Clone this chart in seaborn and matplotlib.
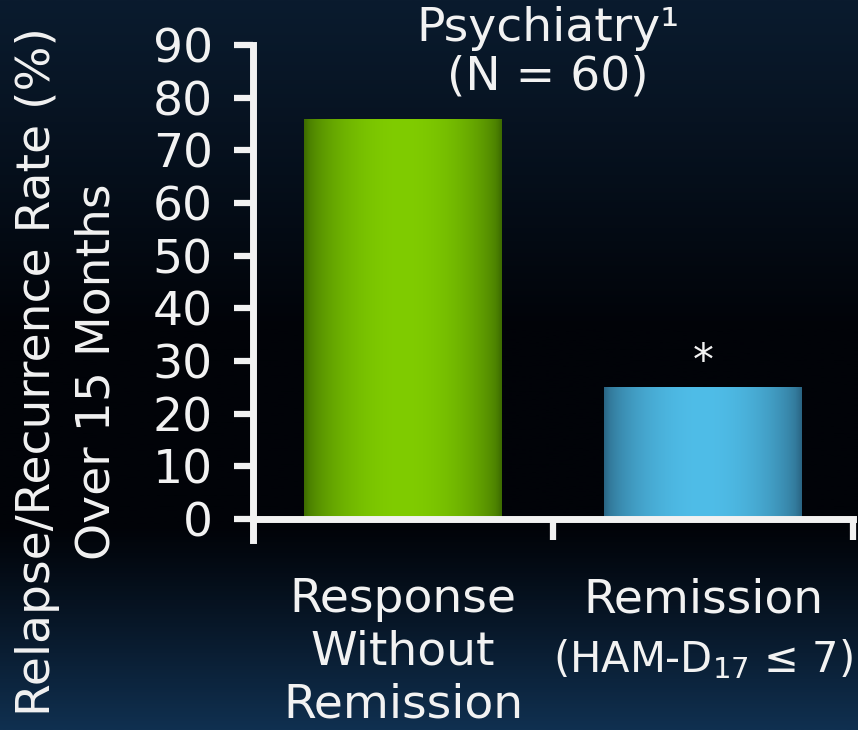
import numpy as np
import pandas as pd
import matplotlib
matplotlib.use("Agg")
import matplotlib.pyplot as plt
import seaborn as sns
from matplotlib.colors import LinearSegmentedColormap, to_rgb

# Relapse/recurrence over 15 months by acute-phase outcome
categories = ["Response\nWithout\nRemission", "Remission"]
criteria = ["", "(HAM-D$_{17}$ \u2264 7)"]
rates = [76, 25]
markers = ["", "*"]
yticks = [0, 10, 20, 30, 40, 50, 60, 70, 80, 90]
title_lines = ["Psychiatry\u00b9", "(N = 60)"]
ylabel_lines = ["Relapse/Recurrence Rate (%)", "Over 15 Months"]

bar_shades = [("#3d6c00", "#80cc00"), ("#2a6584", "#4fbde8")]
text_color = "#f2f2f2"

sns.set_theme(style="white")
plt.rcParams["font.family"] = ["DejaVu Sans"]
plt.rcParams["mathtext.fontset"] = "dejavusans"

W, H = 858, 730
fig = plt.figure(figsize=(W / 100, H / 100), dpi=100)

# dark navy backdrop fading to black through the middle
bg = fig.add_axes([0, 0, 1, 1])
bg.set_axis_off()
yy = np.linspace(0, 1, 400)
top = np.array([10, 27, 46]) / 255
mid = np.array([1, 3, 8]) / 255
bot = np.array([16, 48, 80]) / 255
rows = []
for v in yy:
    if v < 0.45:
        w = (v / 0.45) ** 1.1
        rows.append(top * (1 - w) + mid * w)
    elif v < 0.72:
        rows.append(mid)
    else:
        w = ((v - 0.72) / 0.28) ** 1.1
        rows.append(mid * (1 - w) + bot * w)
bg.imshow(np.array(rows)[:, None, :], aspect="auto", extent=[0, 1, 0, 1], origin="upper")
bg.set_xlim(0, 1)
bg.set_ylim(0, 1)

ax = fig.add_axes([253 / W, 1 - 540 / H, 600 / W, (540 - 45) / H])
ax.patch.set_alpha(0)

df = pd.DataFrame({"group": categories, "rate": rates})
sns.barplot(data=df, x="group", y="rate", hue="group", palette=["#80cc00", "#4fbde8"],
            width=0.66, legend=False, ax=ax, zorder=2)

ax.set_xlim(-0.5, 1.5)
ax.set_ylim(-4, 90)

# shaded cylinder look on each bar
tt = np.linspace(0, 1, 33)
prof = np.clip(np.sin(np.pi * tt), 0, 1) ** 0.6
for patch, (dark, bright) in zip(ax.patches, bar_shades):
    d, b = np.array(to_rgb(dark)), np.array(to_rgb(bright))
    cmap = LinearSegmentedColormap.from_list(
        "shade", [(t, tuple(d + (b - d) * p)) for t, p in zip(tt, prof)])
    x0, y0 = patch.get_x(), patch.get_y()
    w, h = patch.get_width(), patch.get_height()
    grad = np.linspace(0, 1, 256)[None, :]
    im = ax.imshow(grad, cmap=cmap, aspect="auto", extent=[x0, x0 + w, y0, y0 + h],
                   zorder=2.5, interpolation="bilinear")
    im.set_clip_path(patch)
    patch.set_facecolor("none")
    patch.set_edgecolor("none")

for i, (r, m) in enumerate(zip(rates, markers)):
    if m:
        ax.text(i, r + 0.8, m, ha="center", va="bottom", fontsize=30, color=text_color)

for s in ["top", "right"]:
    ax.spines[s].set_visible(False)
ax.spines["bottom"].set_position(("data", 0))
for s in ["left", "bottom"]:
    ax.spines[s].set_color(text_color)
    ax.spines[s].set_linewidth(5)
    ax.spines[s].set_capstyle("projecting")

ax.set_yticks(yticks)
ax.set_yticklabels([str(t) for t in yticks])
ax.tick_params(axis="y", which="major", direction="out", length=14, width=4.5,
               color=text_color, labelcolor=text_color, labelsize=34, pad=15, left=True)

ax.set_xticks([0.5, 1.5])
ax.set_xticklabels([])
ax.set_xticks([0, 1], minor=True)
ax.set_xticklabels(categories, minor=True)
ax.tick_params(axis="x", which="minor", length=0, labelsize=34, labelcolor=text_color,
               pad=42)
ax.tick_params(axis="x", which="major", direction="out", length=15, width=4.5,
               color=text_color, bottom=True)
for lbl in ax.get_xticklabels(minor=True):
    lbl.set_multialignment("center")
    lbl.set_linespacing(1.22)

# qualifying criterion under the category name
for i, c in enumerate(criteria):
    if c:
        ax.annotate(c, xy=(i, 0), xycoords="data", xytext=(0, -101),
                    textcoords="offset points", ha="center", va="center",
                    fontsize=30, color=text_color)

ax.set_xlabel("")
ax.set_ylabel("")

fig.text(548 / W, 1 - 6 / H, "\n".join(title_lines), ha="center", va="top",
         fontsize=34, color=text_color, linespacing=1.1, multialignment="center")
fig.text(67 / W, 1 - 372 / H, "\n".join(ylabel_lines), ha="center", va="center",
         rotation=90, fontsize=34, color=text_color, linespacing=1.4,
         multialignment="center")

fig.savefig("out.png", dpi=100)
